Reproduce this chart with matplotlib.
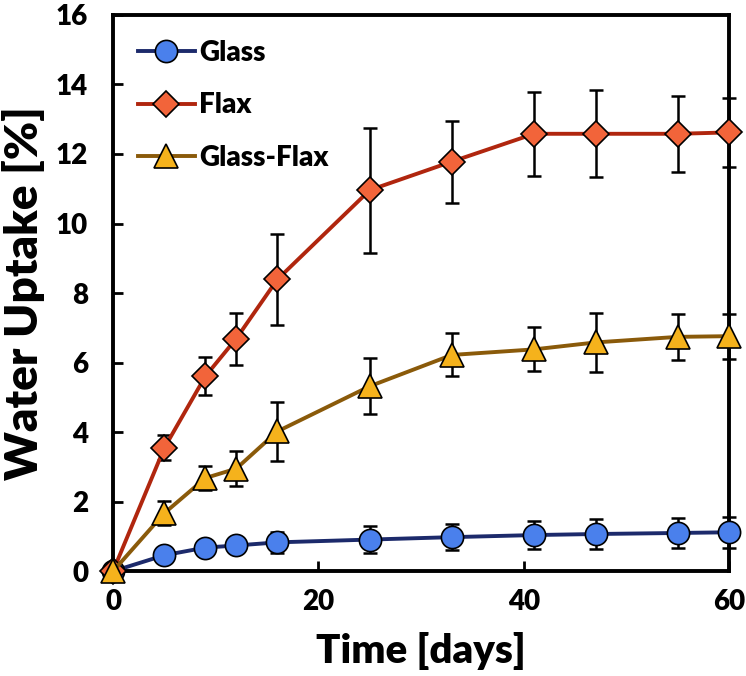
import numpy as np
import matplotlib.pyplot as plt

# Data
days = [0, 5, 9, 12, 16, 25, 33, 41, 47, 55, 60]

glass = [0, 0.46, 0.68, 0.74, 0.83, 0.91, 0.98, 1.04, 1.07, 1.10, 1.12]
glass_err = [0, 0.12, 0.15, 0.15, 0.3, 0.38, 0.38, 0.4, 0.42, 0.44, 0.45]

flax = [0, 3.55, 5.61, 6.69, 8.39, 10.96, 11.78, 12.58, 12.58, 12.58, 12.62]
flax_err = [0, 0.36, 0.55, 0.75, 1.3, 1.8, 1.18, 1.2, 1.25, 1.1, 1.0]

glass_flax = [0, 1.67, 2.68, 2.95, 4.02, 5.32, 6.22, 6.38, 6.58, 6.74, 6.76]
glass_flax_err = [0, 0.35, 0.35, 0.5, 0.85, 0.8, 0.62, 0.63, 0.85, 0.67, 0.65]

x_ticks = [0, 20, 40, 60]
y_ticks = [0, 2, 4, 6, 8, 10, 12, 14, 16]

plt.rcParams['font.family'] = ['Lato', 'DejaVu Sans']
W = "heavy"

fig = plt.figure(figsize=(7.46, 6.76), dpi=100)
ax = fig.add_axes([0.1515, 0.155, 0.826, 0.823])

series = [
    ("Glass", glass, glass_err, "o", "#4a80ec", "#1c2a6b", 16),
    ("Flax", flax, flax_err, "D", "#f2643a", "#b0260e", 13),
    ("Glass-Flax", glass_flax, glass_flax_err, "^", "#f5b21c", "#8a5a0a", 17),
]

for name, vals, errs, mk, fc, lc, ms in series:
    ax.errorbar(days, vals, yerr=errs, fmt="none", ecolor="black",
                elinewidth=1.8, capsize=5, capthick=1.8, zorder=2,
                clip_on=False)
    ax.plot(days, vals, color=lc, linewidth=2.8, marker=mk, markersize=ms,
            markerfacecolor=fc, markeredgecolor="black",
            markeredgewidth=1.2, label=name, zorder=3, clip_on=False)

ax.set_xlim(0, 60)
ax.set_ylim(0, 16)
ax.set_xticks(x_ticks)
ax.set_yticks(y_ticks)
ax.tick_params(direction="in", length=7, width=2, labelsize=20)
ax.tick_params(axis="x", pad=13)
ax.tick_params(axis="y", pad=18)
for lbl in ax.get_xticklabels() + ax.get_yticklabels():
    lbl.set_fontweight(W)
for sp in ax.spines.values():
    sp.set_linewidth(2.8)

ax.set_xlabel("Time [days]", fontsize=29, fontweight=W, labelpad=12)
ax.set_ylabel("Water Uptake [%]", fontsize=33, fontweight=W, labelpad=8)

leg = ax.legend(loc="upper left", frameon=False,
                handlelength=2.05, labelspacing=0.95, borderaxespad=0.5,
                handletextpad=0.15, prop={"weight": W, "size": 20})

fig.savefig("out.png", dpi=100)
